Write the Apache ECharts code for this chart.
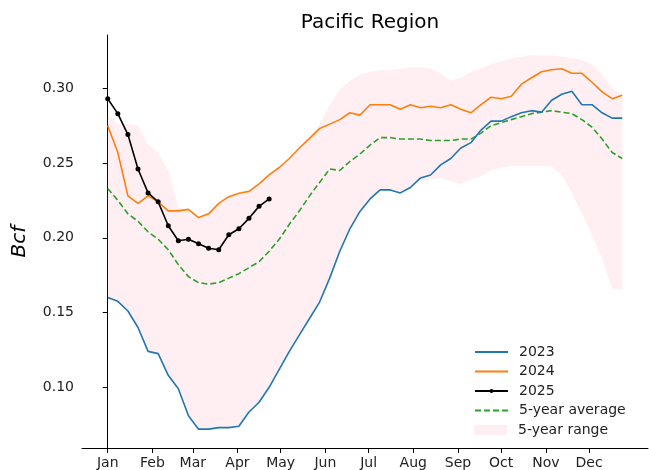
<!DOCTYPE html>
<html>
<head>
<meta charset="utf-8">
<title>Pacific Region</title>
<script src="https://cdn.jsdelivr.net/npm/echarts@6/dist/echarts.min.js"></script>
<style>
  html, body { margin: 0; padding: 0; background: #fff; }
  #chart { width: 649px; height: 470px; }
</style>
</head>
<body>
<div id="chart"></div>
<script>
// day of year for each weekly observation
const weekDays = [0, 7, 14, 21, 28, 35, 42, 49, 56, 63, 70, 77, 84, 91, 98, 105, 112, 119, 126, 133,
  140, 147, 154, 161, 168, 175, 182, 189, 196, 203, 210, 217, 224, 231, 238, 245, 252, 259, 266, 273,
  280, 287, 294, 301, 308, 315, 322, 329, 336, 343, 350, 357];

// month ticks (first day of month)
const monthDays = [0, 31, 59, 90, 120, 151, 181, 212, 243, 273, 304, 334];
const monthLabels = ['Jan', 'Feb', 'Mar', 'Apr', 'May', 'Jun', 'Jul', 'Aug', 'Sep', 'Oct', 'Nov', 'Dec'];
const yTicks = [0.10, 0.15, 0.20, 0.25, 0.30];

const year2023 = [0.160, 0.1575, 0.151, 0.140, 0.124, 0.1225, 0.108, 0.099, 0.081, 0.072,
  0.072, 0.073, 0.073, 0.074, 0.0835, 0.090, 0.100, 0.112, 0.124, 0.135,
  0.146, 0.157, 0.173, 0.191, 0.206, 0.2176, 0.226, 0.232, 0.232, 0.230,
  0.2336, 0.240, 0.242, 0.2487, 0.253, 0.260, 0.2636, 0.272, 0.278, 0.278,
  0.281, 0.2836, 0.285, 0.284, 0.292, 0.296, 0.298, 0.289, 0.289, 0.2836,
  0.280, 0.280];

const year2024 = [0.275, 0.257, 0.228, 0.223, 0.228, 0.224, 0.218, 0.218, 0.219, 0.2135,
  0.216, 0.223, 0.2275, 0.2298, 0.231, 0.236, 0.242, 0.247, 0.253, 0.260,
  0.2665, 0.273, 0.276, 0.279, 0.2836, 0.282, 0.289, 0.289, 0.289, 0.286,
  0.289, 0.287, 0.288, 0.287, 0.289, 0.286, 0.2836, 0.289, 0.294, 0.293,
  0.2947, 0.3027, 0.307, 0.311, 0.3124, 0.313, 0.310, 0.310, 0.304, 0.2976,
  0.293, 0.2953];

const year2025 = [0.293, 0.283, 0.269, 0.246, 0.230, 0.224, 0.208, 0.198, 0.199, 0.196,
  0.193, 0.192, 0.202, 0.206, 0.213, 0.221, 0.226];

const avg5 = [0.233, 0.225, 0.216, 0.211, 0.204, 0.199, 0.192, 0.182, 0.174, 0.170,
  0.169, 0.170, 0.173, 0.176, 0.180, 0.184, 0.191, 0.199, 0.209, 0.218,
  0.228, 0.237, 0.246, 0.245, 0.251, 0.256, 0.262, 0.267, 0.267, 0.266,
  0.266, 0.266, 0.265, 0.265, 0.265, 0.266, 0.266, 0.270, 0.275, 0.277,
  0.279, 0.281, 0.283, 0.284, 0.285, 0.284, 0.283, 0.279, 0.274, 0.266,
  0.257, 0.253];

const rangeHigh = [0.282, 0.276, 0.276, 0.275, 0.262, 0.257, 0.245, 0.220, 0.219, 0.2135,
  0.216, 0.223, 0.2275, 0.2298, 0.231, 0.236, 0.242, 0.247, 0.253, 0.260,
  0.2665, 0.276, 0.289, 0.299, 0.305, 0.309, 0.311, 0.312, 0.312, 0.313,
  0.314, 0.314, 0.313, 0.310, 0.305, 0.307, 0.311, 0.313, 0.316, 0.318,
  0.320, 0.321, 0.322, 0.322, 0.322, 0.321, 0.320, 0.319, 0.316, 0.309,
  0.300, 0.2953];

const rangeLow = [0.160, 0.1575, 0.151, 0.140, 0.124, 0.1225, 0.108, 0.099, 0.081, 0.072,
  0.072, 0.073, 0.073, 0.074, 0.0835, 0.090, 0.100, 0.112, 0.124, 0.135,
  0.146, 0.157, 0.173, 0.191, 0.206, 0.2176, 0.226, 0.232, 0.232, 0.230,
  0.233, 0.238, 0.239, 0.240, 0.238, 0.236, 0.239, 0.241, 0.245, 0.247,
  0.248, 0.248, 0.248, 0.248, 0.2476, 0.242, 0.230, 0.216, 0.202, 0.186,
  0.166, 0.165];

const font = 'DejaVu Sans';
const bandColor = 'rgba(255,192,203,0.25)';
const pairs = (vals) => vals.map((v, i) => [weekDays[i], v]);

const chart = echarts.init(document.getElementById('chart'));

const legendText = { fontFamily: font, fontSize: 14, color: '#222', lineHeight: 14, padding: [0, 0, 0, 6] };
const noDot = { opacity: 0 };

const option = {
  animation: false,
  textStyle: { fontFamily: font },
  title: {
    text: 'Pacific Region',
    left: 365,
    textAlign: 'center',
    top: 8,
    textStyle: { fontFamily: font, fontSize: 20, fontWeight: 'normal', color: '#000' }
  },
  grid: { left: 82, right: 1, top: 35, bottom: 21 },
  legend: [
    {
      // line entries (small marker only for 2025)
      orient: 'vertical',
      left: 469,
      top: 340,
      itemWidth: 33,
      itemHeight: 5,
      itemGap: 5.5,
      textStyle: legendText,
      data: [
        { name: '2023', itemStyle: noDot },
        { name: '2024', itemStyle: noDot },
        { name: '2025' },
        { name: '5-year average', itemStyle: noDot }
      ]
    },
    {
      orient: 'vertical',
      left: 469,
      top: 418,
      itemWidth: 33,
      itemHeight: 10,
      textStyle: legendText,
      data: [{ name: '5-year range', icon: 'rect', itemStyle: { color: bandColor } }]
    }
  ],
  xAxis: {
    type: 'value',
    min: -17.85,
    max: 374.85,
    splitLine: { show: false },
    axisLine: { lineStyle: { color: '#000', width: 1 } },
    axisTick: { length: 5, lineStyle: { color: '#000' }, customValues: monthDays },
    axisLabel: {
      customValues: monthDays,
      fontSize: 14,
      color: '#222',
      margin: 8,
      formatter: (v) => monthLabels[monthDays.indexOf(v)]
    }
  },
  yAxis: {
    type: 'value',
    min: 0.0594,
    max: 0.3356,
    name: 'Bcf',
    nameLocation: 'middle',
    nameGap: 52,
    nameTextStyle: { fontFamily: font, fontSize: 20, fontStyle: 'italic', color: '#000' },
    splitLine: { show: false },
    axisLine: { show: true, lineStyle: { color: '#000', width: 1 } },
    axisTick: { show: true, length: 5, lineStyle: { color: '#000' }, customValues: yTicks },
    axisLabel: {
      customValues: yTicks,
      fontSize: 14,
      color: '#222',
      margin: 8,
      formatter: (v) => v.toFixed(2)
    }
  },
  series: [
    {
      // 5-year min/max band, one polygon through the axis scales
      name: '5-year range',
      type: 'custom',
      itemStyle: { color: bandColor },
      data: [[weekDays[0], rangeLow[0], rangeHigh[0]]],
      z: 1,
      renderItem: function (params, api) {
        const pts = [];
        for (let i = 0; i < weekDays.length; i++) pts.push(api.coord([weekDays[i], rangeHigh[i]]));
        for (let i = weekDays.length - 1; i >= 0; i--) pts.push(api.coord([weekDays[i], rangeLow[i]]));
        return {
          type: 'polygon',
          shape: { points: pts },
          style: { fill: bandColor, stroke: null }
        };
      }
    },
    {
      name: '5-year average',
      type: 'line',
      data: pairs(avg5),
      symbol: 'none',
      z: 3,
      itemStyle: { color: '#2ca02c' },
      lineStyle: { color: '#2ca02c', width: 1.6, type: [6, 3] }
    },
    {
      name: '2023',
      type: 'line',
      data: pairs(year2023),
      symbol: 'none',
      z: 4,
      itemStyle: { color: '#1f77b4' },
      lineStyle: { color: '#1f77b4', width: 1.6 }
    },
    {
      name: '2024',
      type: 'line',
      data: pairs(year2024),
      symbol: 'none',
      z: 5,
      itemStyle: { color: '#ff7f0e' },
      lineStyle: { color: '#ff7f0e', width: 1.6 }
    },
    {
      name: '2025',
      type: 'line',
      data: pairs(year2025),
      symbol: 'circle',
      symbolSize: 5,
      z: 6,
      itemStyle: { color: '#000' },
      lineStyle: { color: '#000', width: 1.6 }
    }
  ]
};

chart.setOption(option);
</script>
</body>
</html>
